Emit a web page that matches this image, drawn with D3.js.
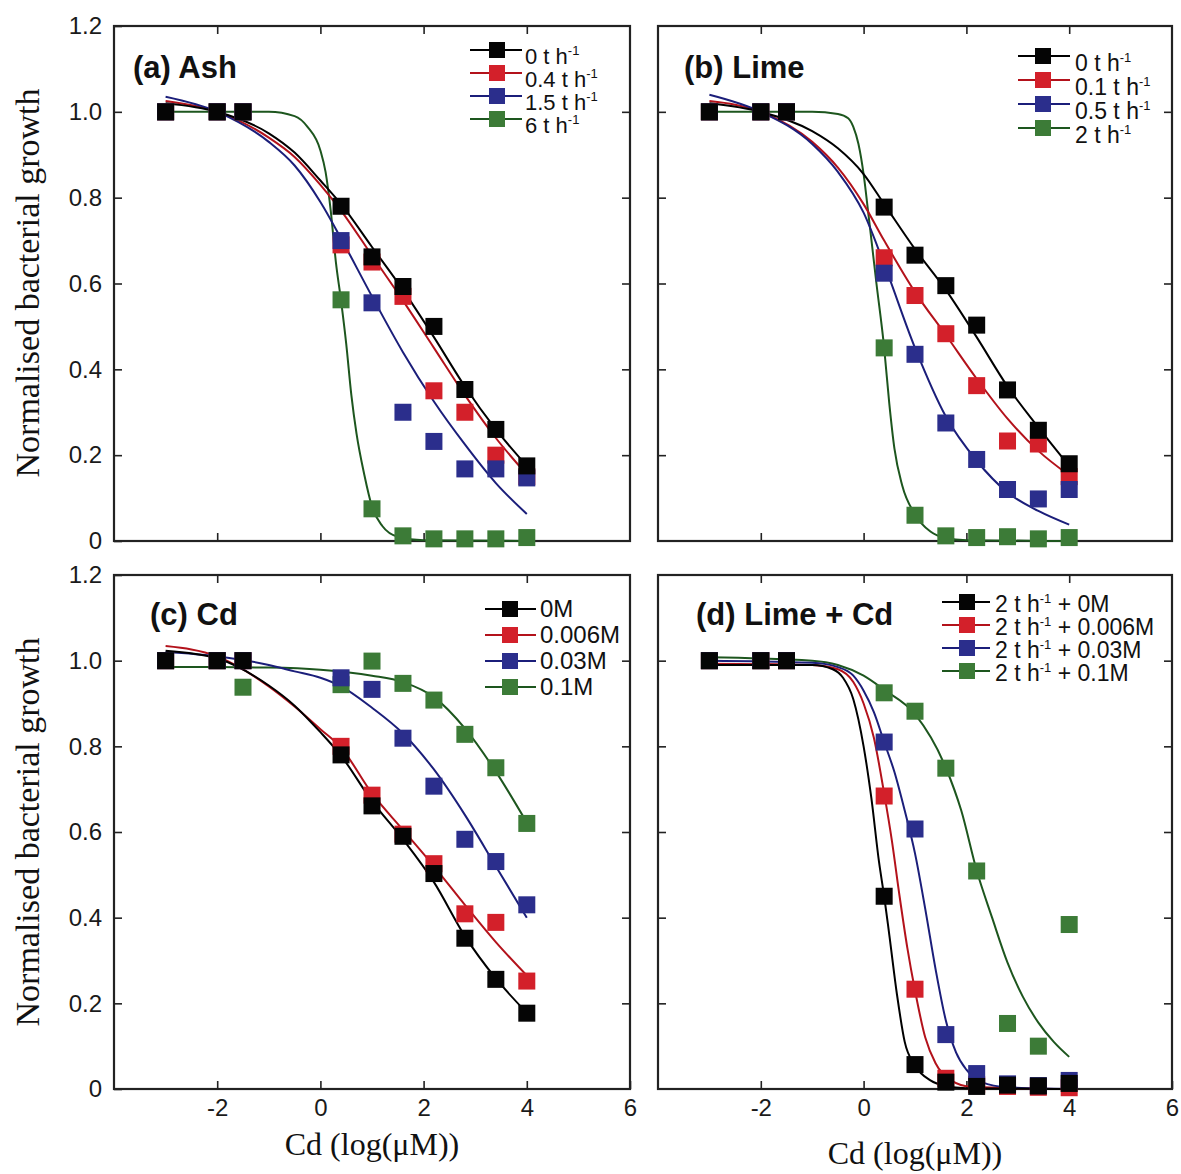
<!DOCTYPE html>
<html>
<head>
<meta charset="utf-8">
<script src="https://cdn.jsdelivr.net/npm/d3@7"></script>
<style>
  body { margin: 0; background: #fff; }
  svg { display: block; }
</style>
</head>
<body>
<svg id="chart" width="1181" height="1174"></svg>
<script>
// measured Cd doses, log(uM)
const doses = [-3, -2, -1.5, 0.4, 1, 1.6, 2.2, 2.8, 3.4, 4];
const xTickVals = [-2, 0, 2, 4, 6];
const yTickVals = [0, 0.2, 0.4, 0.6, 0.8, 1.0, 1.2];

// (a) Ash
const ashNames = ['0', '0.4', '1.5', '6'];
const ashPts0 = [1, 1, 1, 0.78, 0.662, 0.593, 0.50, 0.353, 0.26, 0.175];
const ashPts04 = [1, 1, 1, 0.69, 0.65, 0.57, 0.35, 0.30, 0.20, 0.15];
const ashPts15 = [1, 1, 1, 0.70, 0.555, 0.30, 0.232, 0.168, 0.168, 0.147];
const ashPts6 = [1, 1, 1, 0.562, 0.075, 0.012, 0.005, 0.005, 0.005, 0.008];
const ashFit0 = [[-3, 1.02], [-2, 1.0], [-1, 0.95], [-0.5, 0.905], [0, 0.84], [0.4, 0.785], [1, 0.685], [1.6, 0.585], [2.2, 0.475], [2.8, 0.36], [3.4, 0.26], [4, 0.175]];
const ashFit04 = [[-3, 1.025], [-2, 1.0], [-1, 0.94], [-0.5, 0.895], [0, 0.83], [0.4, 0.77], [1, 0.665], [1.6, 0.56], [2.2, 0.45], [2.8, 0.34], [3.4, 0.24], [4, 0.155]];
const ashFit15 = [[-3, 1.035], [-2, 1.0], [-1, 0.93], [-0.5, 0.875], [0, 0.79], [0.4, 0.705], [1, 0.57], [1.6, 0.44], [2.2, 0.325], [2.8, 0.225], [3.4, 0.135], [4, 0.063]];
const ashFit6 = [[-3, 1.0], [-1, 1.0], [-0.5, 0.99], [-0.25, 0.965], [0, 0.91], [0.1, 0.86], [0.2, 0.77], [0.3, 0.65], [0.4, 0.56], [0.5, 0.46], [0.6, 0.34], [0.7, 0.25], [0.85, 0.155], [1, 0.08], [1.2, 0.035], [1.5, 0.01], [2, 0.002], [4, 0]];

// (b) Lime
const limeNames = ['0', '0.1', '0.5', '2'];
const limePts0 = [1, 1, 1, 0.778, 0.666, 0.595, 0.503, 0.352, 0.258, 0.18];
const limePts01 = [1, 1, 1, 0.66, 0.572, 0.483, 0.362, 0.233, 0.226, 0.15];
const limePts05 = [1, 1, 1, 0.624, 0.435, 0.275, 0.19, 0.12, 0.098, 0.12];
const limePts2 = [1, 1, 1, 0.45, 0.06, 0.012, 0.008, 0.01, 0.005, 0.008];
const limeFit0 = [[-3, 1.02], [-2, 1.0], [-1, 0.955], [-0.5, 0.915], [0, 0.855], [0.4, 0.785], [1, 0.68], [1.6, 0.585], [2.2, 0.475], [2.8, 0.36], [3.4, 0.265], [4, 0.175]];
const limeFit01 = [[-3, 1.025], [-2, 1.0], [-1, 0.93], [-0.5, 0.87], [0, 0.785], [0.4, 0.7], [1, 0.58], [1.6, 0.48], [2.2, 0.378], [2.8, 0.285], [3.4, 0.21], [4, 0.153]];
const limeFit05 = [[-3, 1.04], [-2, 1.0], [-1, 0.925], [-0.5, 0.86], [0, 0.765], [0.4, 0.645], [1, 0.45], [1.6, 0.29], [2.2, 0.187], [2.8, 0.113], [3.4, 0.07], [4, 0.038]];
const limeFit2 = [[-3, 1.0], [-1, 1.0], [-0.5, 0.995], [-0.3, 0.985], [-0.2, 0.965], [-0.1, 0.925], [0, 0.855], [0.1, 0.755], [0.25, 0.6], [0.4, 0.45], [0.5, 0.32], [0.6, 0.215], [0.75, 0.13], [1, 0.062], [1.3, 0.022], [1.6, 0.007], [2, 0.002], [4, 0]];

// (c) Cd
const cdNames = ['0M', '0.006M', '0.03M', '0.1M'];
const cdPts0 = [1, 1, 1, 0.78, 0.661, 0.59, 0.503, 0.352, 0.256, 0.177];
const cdPts006 = [1, 1, 1, 0.80, 0.686, 0.595, 0.526, 0.409, 0.389, 0.252];
const cdPts03 = [1, 1, 1, 0.96, 0.933, 0.819, 0.707, 0.583, 0.531, 0.43];
const cdPts1 = [1, 1, 0.938, 0.944, 0.999, 0.947, 0.908, 0.828, 0.75, 0.62];
const cdFit0 = [[-3, 1.023], [-2, 1.005], [-1, 0.942], [-0.5, 0.895], [0, 0.833], [0.4, 0.778], [1, 0.672], [1.6, 0.583], [2.2, 0.483], [2.8, 0.357], [3.4, 0.258], [4, 0.178]];
const cdFit006 = [[-3, 1.034], [-2, 1.01], [-1, 0.94], [-0.5, 0.893], [0, 0.84], [0.4, 0.797], [1, 0.69], [1.6, 0.605], [2.2, 0.52], [2.8, 0.43], [3.4, 0.343], [4, 0.265]];
const cdFit03 = [[-3, 1.02], [-2, 1.01], [-1, 0.99], [-0.5, 0.975], [0, 0.96], [0.4, 0.94], [1, 0.89], [1.6, 0.83], [2.2, 0.746], [2.8, 0.64], [3.4, 0.52], [4, 0.40]];
const cdFit1 = [[-3, 0.985], [-2, 0.985], [-1, 0.984], [0, 0.979], [1, 0.965], [1.6, 0.95], [2.2, 0.915], [2.8, 0.842], [3.4, 0.741], [4, 0.622]];

// (d) Lime + Cd
const mixNames = ['0M', '0.006M', '0.03M', '0.1M'];
const mixPts0 = [1, 1, 1, 0.45, 0.057, 0.016, 0.006, 0.009, 0.007, 0.013];
const mixPts006 = [1, 1, 1, 0.684, 0.233, 0.025, 0.01, 0.006, 0.004, 0.003];
const mixPts03 = [1, 1, 1, 0.81, 0.607, 0.127, 0.036, 0.012, 0.008, 0.02];
const mixPts1 = [1, 1, 1, 0.925, 0.882, 0.749, 0.509, 0.153, 0.1, 0.384];
const mixFit0 = [[-3, 0.99], [-1, 0.99], [-0.6, 0.98], [-0.4, 0.96], [-0.2, 0.91], [0, 0.8], [0.15, 0.68], [0.3, 0.53], [0.4, 0.45], [0.5, 0.36], [0.65, 0.22], [0.8, 0.11], [1, 0.055], [1.3, 0.02], [1.6, 0.007], [2, 0.002], [4, 0]];
const mixFit006 = [[-3, 0.993], [-1, 0.99], [-0.5, 0.98], [-0.2, 0.95], [0, 0.9], [0.2, 0.82], [0.4, 0.69], [0.55, 0.58], [0.7, 0.45], [0.85, 0.33], [1, 0.23], [1.2, 0.12], [1.4, 0.06], [1.7, 0.02], [2.1, 0.005], [4, 0]];
const mixFit03 = [[-3, 1.0], [-1, 0.995], [-0.5, 0.985], [-0.2, 0.965], [0, 0.93], [0.2, 0.88], [0.4, 0.81], [0.6, 0.74], [0.8, 0.65], [1, 0.55], [1.2, 0.42], [1.4, 0.28], [1.6, 0.16], [1.8, 0.085], [2, 0.045], [2.3, 0.016], [2.8, 0.004], [4, 0]];
const mixFit1 = [[-3, 1.008], [-1, 1.0], [-0.5, 0.99], [0, 0.965], [0.4, 0.932], [1, 0.875], [1.6, 0.75], [1.9, 0.65], [2.2, 0.51], [2.5, 0.4], [2.8, 0.295], [3.1, 0.215], [3.4, 0.155], [3.7, 0.11], [4, 0.075]];

const markFill = ['#050505', '#d3202a', '#2b2e8c', '#3c7b37'];
const lineStroke = ['#000000', '#b3121b', '#1b1e7a', '#1d561e'];
const drawOrder = [3, 1, 2, 0];

const panels = [
  {
    title: '(a) Ash', names: ashNames, pts: [ashPts0, ashPts04, ashPts15, ashPts6],
    fits: [ashFit0, ashFit04, ashFit15, ashFit6],
    box: [114, 26, 630, 541], titlePos: [133, 78], yLabels: true, xLabels: false,
    legend: { x1: 470, x2: 522, mx: 497, tx: 525, rows: [50, 73, 96, 119], dy: 14, size: 22, kind: 'rate' }
  },
  {
    title: '(b) Lime', names: limeNames, pts: [limePts0, limePts01, limePts05, limePts2],
    fits: [limeFit0, limeFit01, limeFit05, limeFit2],
    box: [658, 26, 1172, 541], titlePos: [684, 78], yLabels: false, xLabels: false,
    legend: { x1: 1018, x2: 1070, mx: 1043, tx: 1075, rows: [56, 80, 104, 128], dy: 15, size: 23, kind: 'rate' }
  },
  {
    title: '(c) Cd', names: cdNames, pts: [cdPts0, cdPts006, cdPts03, cdPts1],
    fits: [cdFit0, cdFit006, cdFit03, cdFit1],
    box: [114, 575, 630, 1089], titlePos: [150, 625], yLabels: true, xLabels: true,
    legend: { x1: 485, x2: 536, mx: 510, tx: 540, rows: [609, 635, 661, 687], dy: 8, size: 24, kind: 'plain' }
  },
  {
    title: '(d) Lime + Cd', names: mixNames, pts: [mixPts0, mixPts006, mixPts03, mixPts1],
    fits: [mixFit0, mixFit006, mixFit03, mixFit1],
    box: [658, 575, 1172, 1089], titlePos: [696, 625], yLabels: false, xLabels: true,
    legend: { x1: 942, x2: 990, mx: 967, tx: 995, rows: [602, 625, 648, 671], dy: 10, size: 23, kind: 'mix' }
  }
];

const svg = d3.select('#chart');
const sans = "'Liberation Sans', Arial, sans-serif";
const serif = "'Liberation Serif', 'Times New Roman', serif";
const boxSize = 17;

const drawPanel = p => {
  const [left, top, right, bottom] = p.box;
  const x = d3.scaleLinear().domain([-4, 6]).range([left, right]);
  const y = d3.scaleLinear().domain([0, 1.2]).range([bottom, top]);
  const g = svg.append('g');

  const styleAxis = sel => {
    sel.select('.domain').remove();
    sel.selectAll('.tick line').attr('stroke', '#222').attr('stroke-width', 1.6);
    sel.selectAll('.tick text').attr('fill', '#1a1a1a').style('font-family', sans).style('font-size', '24px');
  };

  g.append('g').attr('transform', `translate(0,${bottom})`)
    .call(d3.axisBottom(x).tickValues(p.xLabels ? xTickVals : [-2, 0, 2, 4])
      .tickSizeInner(-8).tickSizeOuter(0).tickPadding(10)
      .tickFormat(d => p.xLabels ? String(d) : ''))
    .call(styleAxis);
  g.append('g').attr('transform', `translate(0,${top})`)
    .call(d3.axisTop(x).tickValues([-2, 0, 2, 4]).tickSizeInner(-8).tickSizeOuter(0).tickFormat(''))
    .call(styleAxis);
  g.append('g').attr('transform', `translate(${left},0)`)
    .call(d3.axisLeft(y).tickValues(p.yLabels ? yTickVals : [0.2, 0.4, 0.6, 0.8, 1.0])
      .tickSizeInner(-8).tickSizeOuter(0).tickPadding(12)
      .tickFormat(d => p.yLabels ? (d === 0 ? '0' : d.toFixed(1)) : ''))
    .call(styleAxis);
  g.append('g').attr('transform', `translate(${right},0)`)
    .call(d3.axisRight(y).tickValues([0.2, 0.4, 0.6, 0.8, 1.0]).tickSizeInner(-8).tickSizeOuter(0).tickFormat(''))
    .call(styleAxis);

  g.append('rect')
    .attr('x', left).attr('y', top)
    .attr('width', right - left).attr('height', bottom - top)
    .attr('fill', 'none').attr('stroke', '#222').attr('stroke-width', 2.2);

  const line = d3.line().x(d => x(d[0])).y(d => y(d[1])).curve(d3.curveMonotoneX);

  drawOrder.forEach(i => {
    g.append('path')
      .attr('d', line(p.fits[i]))
      .attr('fill', 'none')
      .attr('stroke', lineStroke[i])
      .attr('stroke-width', 2);
  });

  drawOrder.forEach(i => {
    g.append('g').selectAll('rect')
      .data(p.pts[i])
      .join('rect')
      .attr('x', (d, k) => x(doses[k]) - boxSize / 2)
      .attr('y', d => y(d) - boxSize / 2)
      .attr('width', boxSize).attr('height', boxSize)
      .attr('fill', markFill[i]);
  });

  g.append('text')
    .attr('x', p.titlePos[0]).attr('y', p.titlePos[1])
    .style('font-family', sans).style('font-weight', 'bold').style('font-size', '31px')
    .attr('fill', '#111')
    .text(p.title);

  // legend
  const L = p.legend;
  p.names.forEach((name, i) => {
    const ry = L.rows[i];
    g.append('line')
      .attr('x1', L.x1).attr('x2', L.x2).attr('y1', ry).attr('y2', ry)
      .attr('stroke', lineStroke[i]).attr('stroke-width', 2);
    g.append('rect')
      .attr('x', L.mx - 8).attr('y', ry - 8).attr('width', 16).attr('height', 16)
      .attr('fill', markFill[i]);
    const t = g.append('text')
      .attr('x', L.tx).attr('y', ry + L.dy)
      .style('font-family', sans).style('font-size', `${L.size}px`).attr('fill', '#111');
    if (L.kind === 'plain') {
      t.text(name);
    } else {
      const main = L.kind === 'rate' ? `${name} t h` : '2 t h';
      t.append('tspan').text(main);
      t.append('tspan').attr('dy', -9).style('font-size', '13px').text('-1');
      if (L.kind === 'mix') {
        t.append('tspan').attr('dy', 9).text(` + ${name}`);
      }
    }
  });
};

panels.forEach(drawPanel);

// shared axis titles
[283, 832].forEach(cy => {
  svg.append('text')
    .attr('transform', `translate(39,${cy}) rotate(-90)`)
    .attr('text-anchor', 'middle')
    .style('font-family', serif).style('font-size', '34px').attr('fill', '#111')
    .text('Normalised bacterial growth');
});

[[372, 1155], [915, 1164]].forEach(([cx, by]) => {
  svg.append('text')
    .attr('x', cx).attr('y', by)
    .attr('text-anchor', 'middle')
    .style('font-family', serif).style('font-size', '32px').attr('fill', '#111')
    .text('Cd (log(\u03bcM))');
});
</script>
</body>
</html>
